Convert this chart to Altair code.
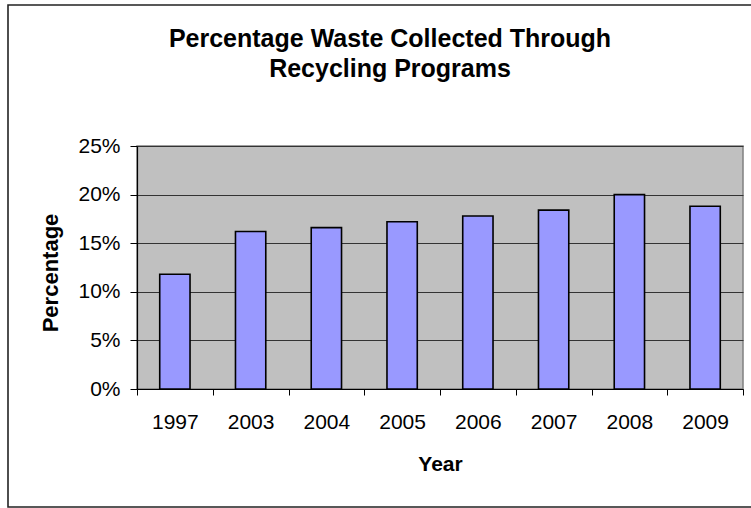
import altair as alt
import pandas as pd

years = ["1997", "2003", "2004", "2005", "2006", "2007", "2008", "2009"]
percent = [11.8, 16.2, 16.6, 17.2, 17.8, 18.4, 20.0, 18.8]
y_ticks = [0, 0.05, 0.10, 0.15, 0.20, 0.25]

df = pd.DataFrame({"Year": years, "Percentage": [p / 100 for p in percent]})

FONT = "Liberation Sans"
W, H = 606, 243

bars = alt.Chart(df).mark_bar(
    color="#9999FF", stroke="#000000", strokeWidth=1.6,
    width=alt.RelativeBandSize(0.4)
).encode(
    x=alt.X("Year:N", sort=years,
            scale=alt.Scale(paddingInner=0, paddingOuter=0),
            axis=alt.Axis(title="Year", labelAngle=0, tickBand="extent",
                          labelFontSize=21, labelFont=FONT, labelColor="#000",
                          labelPadding=16, tickSize=6, tickColor="#000",
                          domainColor="#000", domainWidth=1.2,
                          titleFontSize=21, titleFont=FONT, titleFontWeight="bold",
                          titleColor="#000", titleBaseline="alphabetic",
                          titleY=81, grid=False)),
    y=alt.Y("Percentage:Q",
            scale=alt.Scale(domain=[0, 0.25], nice=False),
            axis=alt.Axis(title="Percentage", format=".0%", values=y_ticks,
                          labelFontSize=21, labelFont=FONT, labelColor="#000",
                          labelPadding=10, tickSize=7, tickColor="#000",
                          domainColor="#000", domainWidth=1.2,
                          grid=True, gridColor="#333333", gridWidth=1,
                          titleFontSize=22, titleFont=FONT, titleFontWeight="bold",
                          titleColor="#000", titleBaseline="alphabetic",
                          titleX=-80, titleY=H / 2 + 5, titleAlign="center",
                          titleAngle=270)),
)

border_df = pd.DataFrame({"b": [1]})
border = alt.Chart(border_df).mark_rect(
    fill=None, stroke="#222222", strokeWidth=1.6
).encode(
    x=alt.value(-129), x2=alt.value(630),
    y=alt.value(-141), y2=alt.value(361),
)

chart = alt.layer(border, bars).properties(
    width=W, height=H,
    title=alt.TitleParams(
        text=["Percentage Waste Collected Through", "Recycling Programs"],
        fontSize=25, font=FONT, fontWeight="bold", color="#000",
        anchor="middle", dx=-50, lineHeight=30, baseline="bottom",
        offset=0, dy=103,
    ),
    autosize=alt.AutoSizeParams(type="none"),
    padding={"left": 137, "top": 146, "right": 8, "bottom": 119},
    background="white",
).configure_view(
    fill="#C0C0C0", stroke="#808080", strokeWidth=1.5
)

chart.save("out.html", embed_options={"renderer": "svg", "actions": False})
